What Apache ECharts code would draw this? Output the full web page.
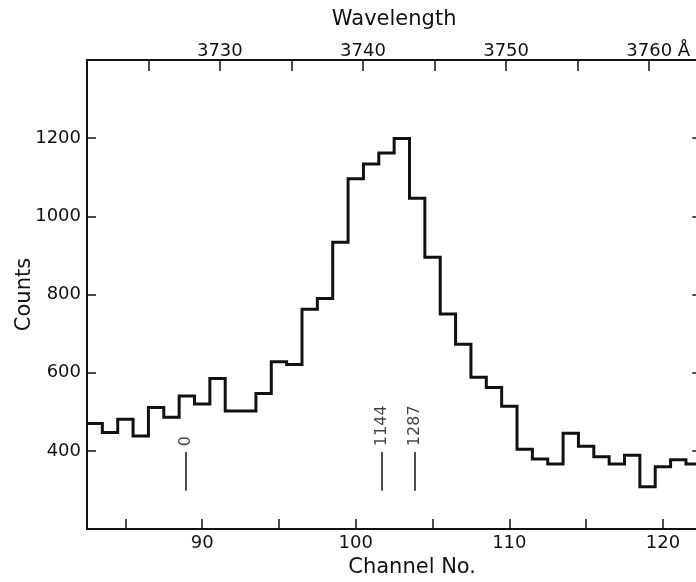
<!DOCTYPE html>
<html>
<head>
<meta charset="utf-8">
<script src="https://cdn.jsdelivr.net/npm/echarts@6/dist/echarts.min.js"></script>
<style>
  html, body { margin: 0; padding: 0; overflow: hidden; background: #fff; }
  #chart { width: 712px; height: 582px; }
</style>
</head>
<body>
<div id="chart"></div>
<script>
// one bin per channel
const channels = [83, 84, 85, 86, 87, 88, 89, 90, 91, 92, 93, 94, 95, 96, 97, 98, 99, 100, 101, 102,
                  103, 104, 105, 106, 107, 108, 109, 110, 111, 112, 113, 114, 115, 116, 117, 118, 119, 120, 121, 122];
const counts = [470, 447, 481, 438, 511, 486, 540, 520, 585, 502, 502, 547, 628, 621, 762, 790, 934, 1096, 1134, 1162,
                1199, 1046, 895, 750, 673, 588, 562, 514, 404, 379, 366, 445, 412, 385, 366, 389, 308, 359, 377, 366];

const channelTicks = [85, 90, 95, 100, 105, 110, 115, 120];
const channelLabels = [90, 100, 110, 120];
const countLabels = [400, 600, 800, 1000, 1200];
const wavelengthTicks = [3725, 3730, 3735, 3740, 3745, 3750, 3755, 3760];
const wavelengthLabels = [3730, 3740, 3750, 3760];

// line markers under the peak
const markerChannels = [88.92, 101.69, 103.86];
const markerNames = ['0', '1144', '1287'];
const markerLow = 298;
const markerHigh = 397;
const markerTextAt = 412;

// wavelength calibration
const refWavelength = 3730;
const refChannel = 91.15;
const channelsPerA = 0.932;

const toChannel = (w) => refChannel + (w - refWavelength) * channelsPerA;
const toWavelength = (c) => Math.round(refWavelength + (c - refChannel) / channelsPerA);

const ink = '#111';
const font = 'DejaVu Sans';

// histogram outline: left edge of each bin, plus the right edge of the last one
const stepData = channels.map((c, i) => [c - 0.5, counts[i]]);
stepData.push([channels[channels.length - 1] + 0.5, counts[counts.length - 1]]);

const axisLine = { lineStyle: { color: ink, width: 2 } };
const tick = (values, len) => ({
    inside: true, length: len, customValues: values,
    lineStyle: { color: ink, width: 1.5 }
});

const chart = echarts.init(document.getElementById('chart'));
chart.setOption({
    animation: false,
    textStyle: { fontFamily: font, color: ink },
    grid: { left: 87, top: 60, right: 10.7, bottom: 53, containLabel: false, outerBoundsMode: 'none' },
    xAxis: [
        {
            type: 'value', position: 'bottom', min: 82.5, max: 122.5,
            axisLine, splitLine: { show: false },
            axisTick: tick(channelTicks, 10),
            axisLabel: { customValues: channelLabels, fontSize: 18, color: ink, margin: 5, fontFamily: font },
            name: 'Channel No.', nameLocation: 'middle', nameGap: 22,
            nameTextStyle: { fontSize: 21, color: ink, fontFamily: font, padding: [0, 0, 0, 36] }
        },
        {
            type: 'value', position: 'top', min: 82.5, max: 122.5,
            axisLine, splitLine: { show: false },
            axisTick: tick(wavelengthTicks.map(toChannel), 11),
            axisLabel: {
                customValues: wavelengthLabels.map(toChannel), fontSize: 18, color: ink, margin: 0, fontFamily: font,
                formatter: (v) => {
                    const w = toWavelength(v);
                    return w === wavelengthLabels[wavelengthLabels.length - 1] ? '{sp|}' + w + ' Å' : String(w);
                },
                rich: { sp: { width: 18 } }
            },
            name: 'Wavelength', nameLocation: 'middle', nameGap: 30,
            nameTextStyle: { fontSize: 21, color: ink, fontFamily: font }
        }
    ],
    yAxis: [
        {
            type: 'value', position: 'left', min: 200, max: 1400, interval: 200,
            axisLine, splitLine: { show: false },
            axisTick: tick(countLabels, 9),
            axisLabel: {
                customValues: countLabels, fontSize: 18, color: ink, margin: 6, fontFamily: font,
                formatter: (v) => String(v)
            },
            name: 'Counts', nameLocation: 'middle', nameGap: 52, nameRotate: 90, nameMoveOverlap: false,
            nameTextStyle: { fontSize: 21, color: ink, fontFamily: font }
        },
        {
            type: 'value', position: 'right', min: 200, max: 1400, interval: 200,
            axisLine, splitLine: { show: false },
            axisTick: tick(countLabels, 9),
            axisLabel: { show: false }
        }
    ],
    series: [
        {
            type: 'line', step: 'end', data: stepData,
            symbol: 'none', silent: true,
            lineStyle: { color: ink, width: 3, join: 'miter' }
        },
        {
            type: 'scatter', symbolSize: 0, silent: true,
            data: markerChannels.map((c) => [c, markerTextAt]),
            label: {
                show: true, position: [0, 0], rotate: 90, align: 'left', verticalAlign: 'middle',
                fontSize: 16, color: ink, fontFamily: font,
                formatter: (p) => markerNames[p.dataIndex]
            },
            markLine: {
                silent: true, symbol: ['none', 'none'], label: { show: false },
                lineStyle: { color: ink, width: 1.5, type: 'solid' },
                data: markerChannels.map((c) => [{ coord: [c, markerLow] }, { coord: [c, markerHigh] }])
            }
        }
    ]
});
</script>
</body>
</html>
